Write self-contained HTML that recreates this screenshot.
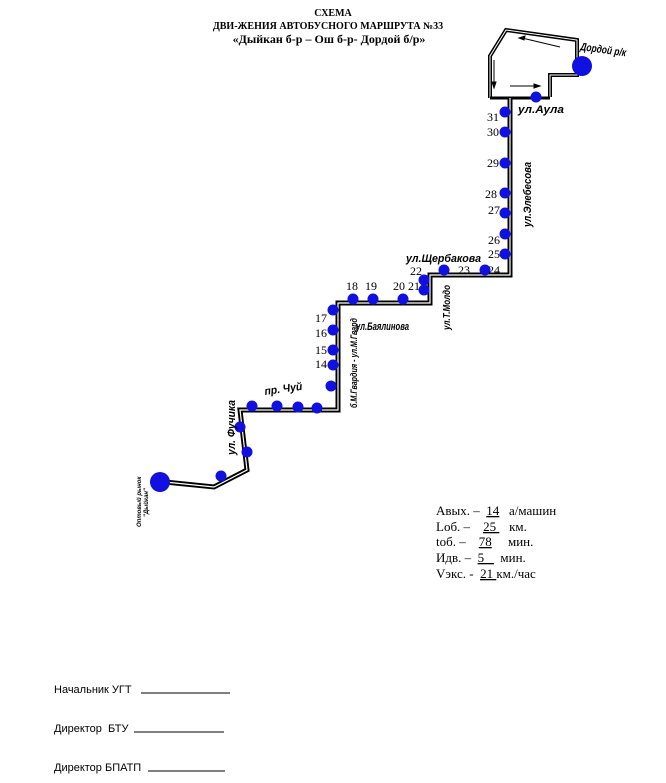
<!DOCTYPE html>
<html><head><meta charset="utf-8"><style>
body{margin:0;background:#fff;width:666px;height:783px;overflow:hidden}
svg{display:block}
.n{font-family:"Liberation Serif",serif;font-size:12px;fill:#000}
.s{font-family:"Liberation Sans",sans-serif;font-weight:bold;font-style:italic;font-size:11px;fill:#000}
.t{font-family:"Liberation Serif",serif;font-size:13px;fill:#000;white-space:pre}
.f{font-family:"Liberation Sans",sans-serif;font-size:11px;fill:#000;white-space:pre}
</style></head><body>
<svg width="666" height="783" viewBox="0 0 666 783">
<text x="333" y="16" text-anchor="middle" font-family="Liberation Serif" font-weight="bold" font-size="10">СХЕМА</text>
<text x="328" y="29" text-anchor="middle" font-family="Liberation Serif" font-weight="bold" font-size="10">ДВИ-ЖЕНИЯ АВТОБУСНОГО МАРШРУТА №33</text>
<text x="329" y="43" text-anchor="middle" font-family="Liberation Serif" font-weight="bold" font-size="12">«Дыйкан б-р – Ош б-р- Дордой б/р»</text>
<g fill="none" stroke-linejoin="miter">
<path d="M490,98 L490,56 L506,30 L577,40 L577,75 L550,75 L550,97" stroke="#000" stroke-width="4"/>
<path d="M490,98 L490,56 L506,30 L577,40 L577,75 L550,75 L550,97" stroke="#fff" stroke-width="1"/>
<path d="M490,98 L550,98" stroke="#000" stroke-width="3"/>
<path d="M510,98 L510,275 L430,275 L430,303 L338,303 L338,410 L240,410 L247,470 L214,487 L165,482" stroke="#000" stroke-width="5"/>
<path d="M510,98 L510,275 L430,275 L430,303 L338,303 L338,410 L240,410 L247,470 L214,487 L165,482" stroke="#fff" stroke-width="1.2"/>
</g>
<g stroke="#000" stroke-width="1" fill="#000">
<line x1="560" y1="47" x2="522" y2="38"/><path d="M519,38 l6,-2 l-1,4z"/>
<line x1="494" y1="60" x2="494" y2="84"/><path d="M494,88 l-2,-6 h4z"/>
<line x1="510" y1="86" x2="536" y2="86"/><path d="M540,86 l-6,-2 v4z"/>
</g>
<g fill="#1010e0">
<circle cx="582" cy="66" r="10"/><circle cx="160" cy="482" r="10"/>
<circle cx="536" cy="97" r="5.5"/>
<circle cx="505" cy="112" r="5.5"/><circle cx="505" cy="132" r="5.5"/><circle cx="505" cy="163" r="5.5"/>
<circle cx="505" cy="193" r="5.5"/><circle cx="505" cy="213" r="5.5"/><circle cx="505" cy="234" r="5.5"/><circle cx="505" cy="254" r="5.5"/>
<circle cx="485" cy="270" r="5.5"/><circle cx="444" cy="270" r="5.5"/><circle cx="424" cy="280" r="5.5"/><circle cx="424" cy="290" r="5.5"/>
<circle cx="353" cy="299" r="5.5"/><circle cx="373" cy="299" r="5.5"/><circle cx="403" cy="299" r="5.5"/>
<circle cx="333" cy="310" r="5.5"/><circle cx="333" cy="330" r="5.5"/><circle cx="333" cy="350" r="5.5"/><circle cx="333" cy="365" r="5.5"/><circle cx="331" cy="386" r="5.5"/>
<circle cx="252" cy="406" r="5.5"/><circle cx="277" cy="406" r="5.5"/><circle cx="298" cy="407" r="5.5"/><circle cx="317" cy="408" r="5.5"/>
<circle cx="240" cy="427" r="5.5"/><circle cx="247" cy="452" r="5.5"/><circle cx="221" cy="476" r="5.5"/>
</g>
<g class="n">
<text x="487" y="121">31</text><text x="487" y="136">30</text><text x="487" y="167">29</text><text x="485" y="198">28</text>
<text x="488" y="214">27</text><text x="488" y="244">26</text><text x="488" y="258">25</text><text x="488" y="274">24</text>
<text x="458" y="274">23</text><text x="410" y="275">22</text><text x="408" y="290">21</text>
<text x="346" y="290">18</text><text x="365" y="290">19</text><text x="393" y="290">20</text>
<text x="315" y="322">17</text><text x="315" y="337">16</text><text x="315" y="354">15</text><text x="315" y="368">14</text>
</g>
<g class="s">
<text x="580" y="50" transform="rotate(8 580 50)" font-size="11" textLength="46" lengthAdjust="spacingAndGlyphs">Дордой р/к</text>
<text x="518" y="113" textLength="46" lengthAdjust="spacingAndGlyphs">ул.Аула</text>
<text x="531" y="227" transform="rotate(-90 531 227)" textLength="65" lengthAdjust="spacingAndGlyphs">ул.Элебесова</text>
<text x="406" y="262" textLength="75" lengthAdjust="spacingAndGlyphs">ул.Щербакова</text>
<text x="450" y="330" transform="rotate(-90 450 330)" font-size="10" textLength="45" lengthAdjust="spacingAndGlyphs">ул.Т.Молдо</text>
<text x="356" y="330" textLength="53" lengthAdjust="spacingAndGlyphs">ул.Баялинова</text>
<text x="357" y="408" transform="rotate(-90 357 408)" font-size="9" textLength="90" lengthAdjust="spacingAndGlyphs">б.М.Гвардия - ул.М.Гвард</text>
<text x="265" y="395" transform="rotate(-8 265 395)" textLength="38" lengthAdjust="spacingAndGlyphs">пр. Чуй</text>
<text x="235" y="455" transform="rotate(-90 235 455)" textLength="55" lengthAdjust="spacingAndGlyphs">ул. Фучика</text>
<text x="141" y="527" transform="rotate(-90 141 527)" font-size="6">Оптовый рынок</text>
<text x="148" y="517" transform="rotate(-90 148 517)" font-size="6">"Дыйкан"</text>
</g>
<g class="t">
<text x="436" y="515" xml:space="preserve">Авых. –  <tspan text-decoration="underline">14</tspan>   а/машин</text>
<text x="436" y="531" xml:space="preserve">Lоб. –    <tspan text-decoration="underline">25 </tspan>   км.</text>
<text x="436" y="546" xml:space="preserve">tоб. –    <tspan text-decoration="underline">78</tspan>     мин.</text>
<text x="436" y="562" xml:space="preserve">Идв. –  <tspan text-decoration="underline">5   </tspan>  мин.</text>
<text x="436" y="578" xml:space="preserve">Vэкс. -  <tspan text-decoration="underline">21 </tspan>км./час</text>
</g>
<g class="f">
<text x="54" y="693">Начальник УГТ</text><line x1="141" y1="693" x2="230" y2="693" stroke="#000"/>
<text x="54" y="732" xml:space="preserve">Директор  БТУ</text><line x1="134" y1="732" x2="224" y2="732" stroke="#000"/>
<text x="54" y="771">Директор БПАТП</text><line x1="148" y1="771" x2="225" y2="771" stroke="#000"/>
</g>
</svg>
</body></html>
